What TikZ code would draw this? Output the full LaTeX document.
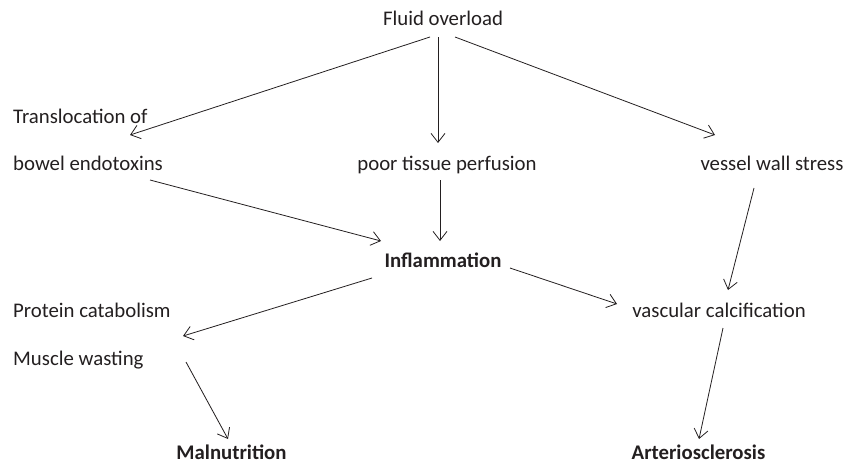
\documentclass[tikz,border=0pt]{standalone}
\usepackage{fontspec}
\setmainfont{Carlito}
\usetikzlibrary{arrows.meta}
\definecolor{ink}{HTML}{231F20}

\begin{document}
\begin{tikzpicture}[x=1pt,y=-1pt,
    every node/.style={inner sep=0pt,text=ink,font=\fontsize{20.8}{24}\selectfont},
    arr/.style={draw=ink,line width=0.8pt,-{Straight Barb[length=9pt,width=14pt]}}]
    \useasboundingbox (0,0) rectangle (859,463);

    \node[anchor=base] (fluid) at (443,25) {Fluid overload};
    \node[anchor=base west] (trans) at (13,123) {Translocation of};
    \node[anchor=base west] (bowel) at (13,170) {bowel endotoxins};
    \node[anchor=base] (poor) at (447,170) {poor tissue perfusion};
    \node[anchor=base] (vessel) at (772,170) {vessel wall stress};
    \node[anchor=base,font=\fontsize{20.8}{24}\selectfont\bfseries] (inflam) at (443,267) {Inflammation};
    \node[anchor=base west] (protein) at (13,317) {Protein catabolism};
    \node[anchor=base west] (muscle) at (13,365) {Muscle wasting};
    \node[anchor=base] (vascular) at (719,317) {vascular calcification};
    \node[anchor=base,font=\fontsize{20.8}{24}\selectfont\bfseries] (malnut) at (231.5,459) {Malnutrition};
    \node[anchor=base,font=\fontsize{20.8}{24}\selectfont\bfseries] (arterio) at (698.5,459) {Arteriosclerosis};

    \draw[arr]([xshift=-13pt,yshift=-12pt]fluid.base)--([xshift=117pt,yshift=-12pt]trans.base west);
    \draw[arr]([xshift=-5pt,yshift=-12pt]fluid.base)--([xshift=-9pt,yshift=27pt]poor.base);
    \draw[arr]([xshift=12pt,yshift=-12pt]fluid.base)--([xshift=-57pt,yshift=35pt]vessel.base);

    \draw[arr]([xshift=137pt,yshift=-10pt]bowel.base west)--([xshift=-62pt,yshift=26pt]inflam.base);
    \draw[arr]([xshift=-7pt,yshift=-10pt]poor.base)--([xshift=-3pt,yshift=26pt]inflam.base);
    \draw[arr]([xshift=-18pt,yshift=-18pt]vessel.base)--([xshift=9pt,yshift=27pt]vascular.base);

    \draw[arr]([xshift=-71pt,yshift=-11pt]inflam.base)--([xshift=170pt,yshift=-19pt]protein.base west);
    \draw[arr]([xshift=67pt,yshift=-1pt]inflam.base)--([xshift=-102pt,yshift=13pt]vascular.base);

    \draw[arr]([xshift=173pt,yshift=3pt]muscle.base west)--([xshift=-3.5pt,yshift=20pt]malnut.base);
    \draw[arr]([xshift=4pt,yshift=-11pt]vascular.base)--([xshift=0.5pt,yshift=20pt]arterio.base);
\end{tikzpicture}
\end{document}
